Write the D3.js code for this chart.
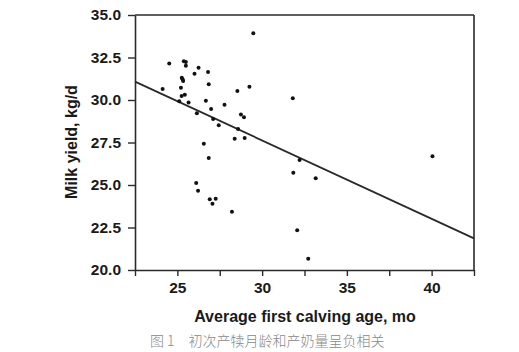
<!DOCTYPE html>
<html><head><meta charset="utf-8">
<script src="https://cdn.jsdelivr.net/npm/d3@7"></script>
<style>body{margin:0;background:#fff}svg{display:block}</style>
</head><body>
<svg id="c" width="519" height="352"></svg>
<script>
const ageValues = [29.48,24.52,25.38,25.5,25.5,26.25,26.01,26.81,25.26,25.31,25.34,26.85,25.21,24.13,28.54,29.25,31.81,25.44,25.25,25.11,25.66,26.68,27.78,26.99,26.15,28.75,28.93,27.11,27.44,28.58,28.38,28.97,26.56,26.85,32.21,31.84,26.11,26.22,26.91,27.26,27.07,28.22,32.07,32.72,33.16,40.05];
const milkValues = [33.92,32.14,32.28,32.24,32.02,31.9,31.55,31.65,31.31,31.22,31.12,30.92,30.72,30.65,30.53,30.78,30.1,30.31,30.24,29.92,29.86,29.96,29.72,29.47,29.22,29.14,28.98,28.88,28.51,28.29,27.72,27.76,27.43,26.59,26.47,25.72,25.12,24.66,24.16,24.19,23.9,23.43,22.34,20.66,25.39,26.69];
const fitX = [22.5, 42.5];
const fitY = [31.08, 21.86];
const xTicks = [22.5,25,27.5,30,32.5,35,37.5,40,42.5];
const xTickLabels = ["","25","","30","","35","","40",""];
const yTicks = [20,22.5,25,27.5,30,32.5,35];
const yTickLabels = ["20.0","22.5","25.0","27.5","30.0","32.5","35.0"];
const xTitle = "Average first calving age, mo";
const yTitle = "Milk yield, kg/d";
const caption = "图 1　初次产犊月龄和产奶量呈负相关";

const svg = d3.select("#c");
const L=135, R=474, T=15, B=270;
const x = d3.scaleLinear().domain([22.5,42.5]).range([L,R]);
const y = d3.scaleLinear().domain([20,35]).range([B,T]);
const ink = "#2a2a2a";
const font = "'Liberation Sans', Arial, sans-serif";

// frame top & right
svg.append("line").attr("x1",L).attr("x2",R).attr("y1",T).attr("y2",T).attr("stroke",ink).attr("stroke-width",1.6);
svg.append("line").attr("x1",R).attr("x2",R).attr("y1",T).attr("y2",B).attr("stroke",ink).attr("stroke-width",1.6);

const xAxis = d3.axisBottom(x).tickValues(xTicks).tickFormat((d,i)=>xTickLabels[i]).tickSize(6).tickSizeOuter(0).tickPadding(6);
const gx = svg.append("g").attr("transform",`translate(0,${B})`).call(xAxis);
const yAxis = d3.axisLeft(y).tickValues(yTicks).tickFormat((d,i)=>yTickLabels[i]).tickSize(7).tickSizeOuter(0).tickPadding(7);
const gy = svg.append("g").attr("transform",`translate(${L},0)`).call(yAxis);
[gx,gy].forEach(g=>{
  g.select(".domain").attr("stroke",ink).attr("stroke-width",1.6);
  g.selectAll(".tick line").attr("stroke",ink).attr("stroke-width",1.4);
  g.selectAll(".tick text").attr("fill","#1a1a1a").attr("font-family",font).attr("font-weight","bold").attr("font-size",15.5);
});

// fit line
svg.append("line").attr("x1",x(fitX[0])).attr("y1",y(fitY[0])).attr("x2",x(fitX[1])).attr("y2",y(fitY[1]))
  .attr("stroke",ink).attr("stroke-width",1.8);

// points
svg.append("g").selectAll("circle").data(ageValues).join("circle")
  .attr("cx",d=>x(d)).attr("cy",(d,i)=>y(milkValues[i])).attr("r",2).attr("fill","#111");

// titles
svg.append("text").attr("x",305).attr("y",322).attr("text-anchor","middle")
  .attr("font-family",font).attr("font-weight","bold").attr("font-size",16).attr("fill","#1a1a1a").text(xTitle);
svg.append("text").attr("transform","translate(77,142) rotate(-90)").attr("text-anchor","middle")
  .attr("font-family",font).attr("font-weight","bold").attr("font-size",16).attr("fill","#1a1a1a").text(yTitle);
svg.append("text").attr("x",150).attr("y",346)
  .attr("font-family","'Noto Sans CJK SC', sans-serif").attr("font-weight",300).attr("font-size",14).attr("fill","#888").text(caption);
</script>
</body></html>
